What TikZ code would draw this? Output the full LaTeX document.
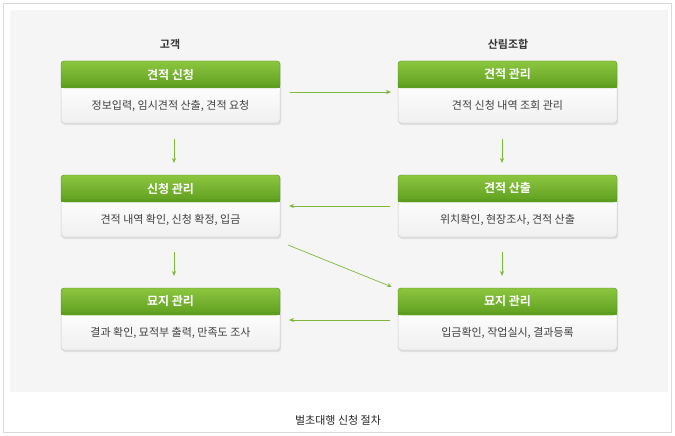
\documentclass[tikz,border=0pt]{standalone}
\usepackage{fontspec}
\setmainfont{Noto Sans CJK KR}
\newfontfamily\kb{Noto Sans CJK KR Bold}
\usetikzlibrary{arrows.meta}
\definecolor{gtop}{HTML}{8CC63F}
\definecolor{gbot}{HTML}{5E9E1F}
\definecolor{arr}{HTML}{7DB83A}
\tikzset{
 hd/.style={rounded corners=3pt,top color=gtop,bottom color=gbot,draw=gbot!90!black,line width=0.4pt},
 bd/.style={rounded corners=3pt,top color=white,bottom color=black!6,draw=black!20,line width=0.5pt},
 ht/.style={text=white,font=\kb\fontsize{12}{14}\selectfont},
 bt/.style={text=black!75,font=\fontsize{11}{13}\selectfont},
 ar/.style={draw=arr,line width=0.7pt,-{Stealth[length=5pt,width=4pt]}}
}
\newcommand\flowbox[4]{%
 \fill[black!12,rounded corners=3pt] (#1+1,#2+1) rectangle (#1+220,#2+64);
 \path[bd] (#1,#2+20) rectangle (#1+219,#2+62);
 \path[hd] (#1,#2) rectangle (#1+219,#2+27);
 \fill[gbot] (#1+0.3,#2+24) rectangle (#1+218.7,#2+27);
 \node[ht] at (#1+109.5,#2+13.5) {#3};
 \node[bt] at (#1+109.5,#2+44.5) {#4};
}
\begin{document}
\begin{tikzpicture}[x=1pt,y=-1pt]
\useasboundingbox (0,0) rectangle (675,436);
\fill[white] (0,0) rectangle (675,436);
\draw[black!15] (3.5,3.5) rectangle (671.5,432.5);
\fill[black!4] (10,10) rectangle (668,392);
\node[font=\kb\fontsize{11}{13}\selectfont,text=black!80] (c1) at (170,44) {고객};
\node[font=\kb\fontsize{11}{13}\selectfont,text=black!80] (c2) at (508,44) {산림조합};
\flowbox{61}{61}{견적 신청}{정보입력, 임시견적 산출, 견적 요청}
\flowbox{398}{61}{견적 관리}{견적 신청 내역 조회 관리}
\flowbox{61}{175}{신청 관리}{견적 내역 확인, 신청 확정, 입금}
\flowbox{398}{175}{견적 산출}{위치확인, 현장조사, 견적 산출}
\flowbox{61}{288}{묘지 관리}{결과 확인, 묘적부 출력, 만족도 조사}
\flowbox{398}{288}{묘지 관리}{입금확인, 작업실시, 결과등록}
\coordinate (a1) at (290,92); \coordinate (b1) at (391,92);
\draw[ar] (a1) -- (b1);
\coordinate (a2) at (174,139); \coordinate (b2) at (174,163);
\draw[ar] (a2) -- (b2);
\coordinate (a3) at (502,139); \coordinate (b3) at (502,163);
\draw[ar] (a3) -- (b3);
\coordinate (a4) at (390,206); \coordinate (b4) at (289,206);
\draw[ar] (a4) -- (b4);
\coordinate (a5) at (288,245); \coordinate (b5) at (392,287);
\draw[ar] (a5) -- (b5);
\coordinate (a6) at (174,252); \coordinate (b6) at (174,276);
\draw[ar] (a6) -- (b6);
\coordinate (a7) at (502,252); \coordinate (b7) at (502,276);
\draw[ar] (a7) -- (b7);
\coordinate (a8) at (390,320); \coordinate (b8) at (289,320);
\draw[ar] (a8) -- (b8);
\node[font=\fontsize{11}{13}\selectfont,text=black!85] (cap) at (338,420) {벌초대행 신청 절차};
\end{tikzpicture}
\end{document}
